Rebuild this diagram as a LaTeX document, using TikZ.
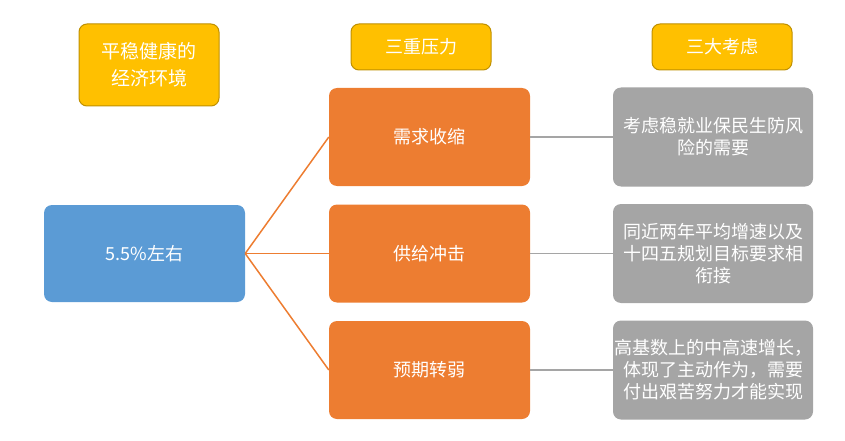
\documentclass[tikz,border=0pt]{standalone}
\usepackage{fontspec}
\setmainfont{Noto Sans CJK SC}
\definecolor{ygold}{HTML}{FFC000}
\definecolor{yborder}{HTML}{BF9000}
\definecolor{oran}{HTML}{ED7D31}
\definecolor{blu}{HTML}{5B9BD5}
\definecolor{gry}{HTML}{A5A5A5}
\begin{document}
\begin{tikzpicture}[x=1pt,y=-1pt,
  box/.style={rounded corners=8pt, inner sep=0pt, align=center, text=white,
    font=\fontsize{18}{22}\selectfont},
  ybox/.style={box, fill=ygold, draw=yborder, line width=1pt},
  obox/.style={box, fill=oran, minimum width=201pt, minimum height=98pt},
  gbox/.style={box, fill=gry, minimum width=200pt, minimum height=99pt},
  bbox/.style={box, fill=blu, minimum width=201pt, minimum height=97pt},
  oline/.style={draw=oran, line width=1.5pt},
  gline/.style={draw=gry, line width=1.5pt}]
\useasboundingbox (0,0) rectangle (845,441);
\node[ybox, minimum width=140pt, minimum height=82pt, font=\fontsize{19}{27}\selectfont] (y1) at (149,65) {平稳健康的\\经济环境};
\node[ybox, minimum width=140pt, minimum height=46pt] (y2) at (421,47) {三重压力};
\node[ybox, minimum width=140pt, minimum height=46pt] (y3) at (722,47) {三大考虑};
\node[bbox] (b) at (144.5,253.5) {5.5\%左右};
\node[obox] (o1) at (429.5,137) {需求收缩};
\node[obox] (o2) at (429.5,253.5) {供给冲击};
\node[obox] (o3) at (429.5,370) {预期转弱};
\node[gbox] (g1) at (713,137) {考虑稳就业保民生防风\\险的需要};
\node[gbox] (g2) at (713,253.5) {同近两年平均增速以及\\十四五规划目标要求相\\衔接};
\node[gbox] (g3) at (713,370) {高基数上的中高速增长，\\体现了主动作为，需要\\付出艰苦努力才能实现};
\draw[oline] (b.east) -- (o1.west);
\draw[oline] (b.east) -- (o2.west);
\draw[oline] (b.east) -- (o3.west);
\draw[gline] (o1.east) -- (g1.west);
\draw[gline] (o2.east) -- (g2.west);
\draw[gline] (o3.east) -- (g3.west);
\end{tikzpicture}
\end{document}
